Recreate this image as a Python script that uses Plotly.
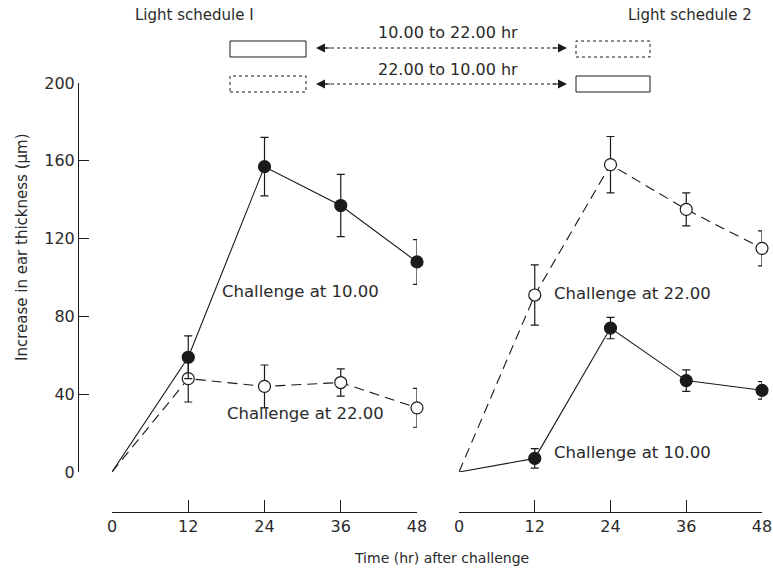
import plotly.graph_objects as go

W, H = 773, 571

# ---- data ----
time_hr = [0, 12, 24, 36, 48]

# Light schedule 1
s1_ch10_mean = [0, 59, 157, 137, 108]
s1_ch10_err = [0, 11, 15, 16, 11.5]
s1_ch22_mean = [0, 48, 44, 46, 33]
s1_ch22_err = [0, 12, 11, 7, 10]

# Light schedule 2
s2_ch22_mean = [0, 91, 158, 135, 115]
s2_ch22_err = [0, 15.5, 14.5, 8.5, 9]
s2_ch10_mean = [0, 7, 74, 47, 42]
s2_ch10_err = [0, 5, 5.5, 5.5, 4.5]

x_ticks = [0, 12, 24, 36, 48]
y_ticks = [0, 40, 80, 120, 160, 200]

FONT = "DejaVu Sans"
INK = "#1a1a1a"
TXT = "#2a2a2a"


def px(x):
    return x / W


def py(y):
    return 1 - y / H


fig = go.Figure()


def add_series(x, y, err, filled, dash, xa):
    fig.add_trace(go.Scatter(
        x=x, y=y, xaxis=xa, yaxis="y", mode="lines",
        line=dict(color=INK, width=1.1, dash=dash),
        hoverinfo="skip", showlegend=False, cliponaxis=False,
    ))
    fig.add_trace(go.Scatter(
        x=x[1:], y=y[1:], xaxis=xa, yaxis="y", mode="markers",
        marker=dict(size=12, color=INK if filled else "white",
                    line=dict(color=INK, width=1.2)),
        error_y=dict(type="data", array=err[1:], visible=True,
                     color=INK, thickness=1.2, width=4),
        showlegend=False, cliponaxis=False,
    ))


add_series(time_hr, s1_ch22_mean, s1_ch22_err, False, "10px,6px", "x")
add_series(time_hr, s1_ch10_mean, s1_ch10_err, True, "solid", "x")
add_series(time_hr, s2_ch22_mean, s2_ch22_err, False, "10px,6px", "x2")
add_series(time_hr, s2_ch10_mean, s2_ch10_err, True, "solid", "x2")

xaxis_common = dict(
    range=[0, 48], tickvals=x_ticks, ticktext=[str(v) for v in x_ticks],
    ticks="inside", ticklen=12, tickwidth=1, tickcolor=INK,
    showline=True, linecolor=INK, linewidth=1,
    showgrid=False, zeroline=False, anchor="free", position=py(512),
    tickfont=dict(family=FONT, size=16, color=TXT),
)

fig.update_layout(
    width=W, height=H,
    margin=dict(l=0, r=0, t=0, b=0, autoexpand=False),
    paper_bgcolor="white", plot_bgcolor="rgba(0,0,0,0)",
    font=dict(family=FONT, color=TXT),
    xaxis=dict(domain=[px(112), px(417)], **xaxis_common),
    xaxis2=dict(domain=[px(459), px(762)], **xaxis_common),
    yaxis=dict(
        domain=[py(472), py(83)], range=[0, 200],
        tickvals=y_ticks, ticks="inside", ticklen=10, tickwidth=1,
        tickcolor=INK, showline=True, linecolor=INK, linewidth=1,
        showgrid=False, zeroline=False, anchor="free", position=px(78),
        tickfont=dict(family=FONT, size=16, color=TXT),
    ),
)

ann = []


def text(x, y, s, size=15, xanchor="center", xref="paper", yref="paper", angle=0):
    ann.append(dict(x=x, y=y, xref=xref, yref=yref, text=s, showarrow=False,
                    xanchor=xanchor, yanchor="middle", textangle=angle,
                    font=dict(family=FONT, size=size, color=TXT)))


# curve labels (in data coordinates)
text(29.7, 93, "Challenge at 10.00", size=16.5, xref="x", yref="y")
text(30.5, 30, "Challenge at 22.00", size=16.5, xref="x", yref="y")
text(14.7, 92, "Challenge at 22.00", size=16.5, xref="x2", yref="y", xanchor="left")
text(14.7, 10, "Challenge at 10.00", size=16.5, xref="x2", yref="y", xanchor="left")

# titles
text(px(195), py(15), "Light schedule I")
text(px(690), py(15), "Light schedule 2")
text(px(448), py(33), "10.00 to 22.00 hr", size=16)
text(px(448), py(70), "22.00 to 10.00 hr", size=16)
text(px(441), py(558), "Time (hr) after challenge", size=14)
text(px(22), py(247), "Increase in ear thickness (μm)", size=15, angle=-90)

# arrowheads at both ends of the two arrows
for yy in (48, 84):
    ann.append(dict(x=px(316), y=py(yy), xref="paper", yref="paper",
                    ax=16, ay=0, showarrow=True, arrowhead=2, arrowsize=1.5,
                    arrowwidth=1.2, arrowcolor=INK, text=""))
    ann.append(dict(x=px(567), y=py(yy), xref="paper", yref="paper",
                    ax=-16, ay=0, showarrow=True, arrowhead=2, arrowsize=1.5,
                    arrowwidth=1.2, arrowcolor=INK, text=""))

fig.update_layout(annotations=ann)

shapes = []


def box(x0, y0, x1, y1, dash):
    shapes.append(dict(type="rect", xref="paper", yref="paper",
                       x0=px(x0), x1=px(x1), y0=py(y1), y1=py(y0),
                       line=dict(color=INK, width=1, dash=dash),
                       fillcolor="rgba(0,0,0,0)"))


box(230, 41, 306, 57, "solid")
box(576, 41, 650, 57, "dot")
box(230, 76, 306, 92, "dot")
box(576, 76, 650, 92, "solid")

for yy in (48, 84):
    shapes.append(dict(type="line", xref="paper", yref="paper",
                       x0=px(325), x1=px(558), y0=py(yy), y1=py(yy),
                       line=dict(color=INK, width=1, dash="dot")))

fig.update_layout(shapes=shapes)

fig.write_html(
    "out.html",
    config={"displayModeBar": False},
    post_script="document.body.style.margin='0';document.body.style.padding='0';",
)
